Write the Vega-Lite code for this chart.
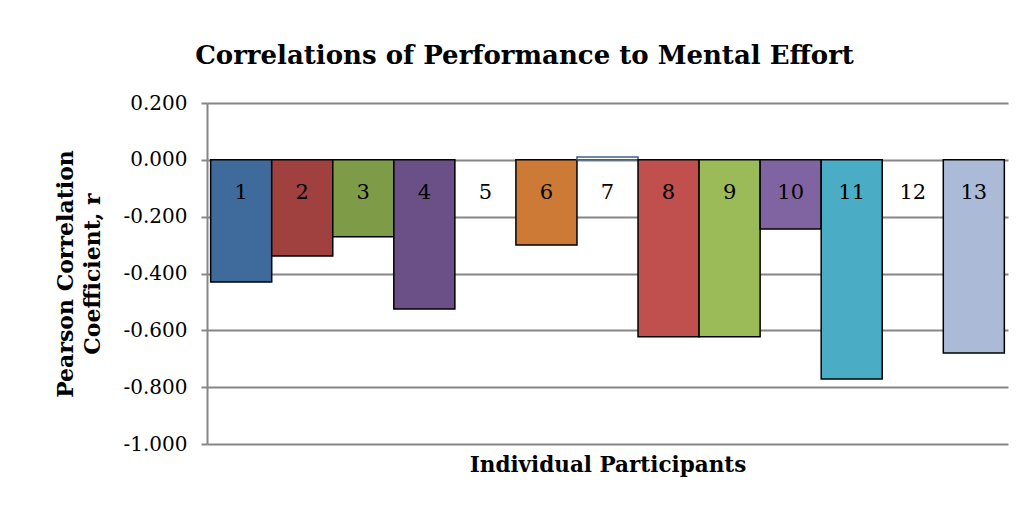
{
  "$schema": "https://vega.github.io/schema/vega-lite/v6.json",
  "width": 801,
  "height": 341,
  "autosize": {"type": "none"},
  "padding": {"left": 207, "top": 103, "right": 15, "bottom": 62},
  "background": "white",
  "title": {
    "text": "Correlations of Performance to Mental Effort",
    "font": "DejaVu Serif",
    "fontSize": 26,
    "fontWeight": "bold",
    "color": "black",
    "anchor": "middle",
    "dx": -83,
    "offset": 24
  },
  "data": {
    "values": [
      {"p": "1", "r": -0.43},
      {"p": "2", "r": -0.338},
      {"p": "3", "r": -0.271},
      {"p": "4", "r": -0.525},
      {"p": "5", "r": null},
      {"p": "6", "r": -0.3},
      {"p": "7", "r": 0.01},
      {"p": "8", "r": -0.623},
      {"p": "9", "r": -0.623},
      {"p": "10", "r": -0.243},
      {"p": "11", "r": -0.771},
      {"p": "12", "r": null},
      {"p": "13", "r": -0.68}
    ]
  },
  "encoding": {
    "x": {
      "field": "p",
      "type": "nominal",
      "sort": null,
      "scale": {
        "domain": ["1", "2", "3", "4", "5", "6", "7", "8", "9", "10", "11", "12", "13"],
        "paddingInner": 0,
        "paddingOuter": 0.06
      },
      "axis": {
        "title": "Individual Participants",
        "labels": false,
        "ticks": false,
        "domain": false,
        "titleFont": "DejaVu Serif",
        "titleFontSize": 21.5,
        "titleFontWeight": "bold",
        "titleColor": "black",
        "titlePadding": 10
      }
    }
  },
  "layer": [
    {
      "mark": {"type": "bar", "stroke": "black", "strokeWidth": 1.5},
      "encoding": {
        "y": {
          "field": "r",
          "type": "quantitative",
          "scale": {"domain": [-1, 0.2], "nice": false, "zero": true},
          "axis": {
            "title": ["Pearson Correlation", "Coefficient, r"],
            "values": [-1, -0.8, -0.6, -0.4, -0.2, 0, 0.2],
            "format": ".3f",
            "labelExpr": "replace(datum.label, '\u2212', '-')",
            "labelFont": "DejaVu Serif",
            "labelFontSize": 20,
            "labelColor": "black",
            "labelPadding": 14,
            "tickSize": 6,
            "tickColor": "#868686",
            "tickWidth": 2,
            "domainColor": "#868686",
            "domainWidth": 2,
            "grid": true,
            "gridColor": "#868686",
            "gridWidth": 2,
            "titleFont": "DejaVu Serif",
            "titleFontSize": 22,
            "titleFontWeight": "bold",
            "titleColor": "black",
            "titlePadding": 18,
            "titleLineHeight": 27
          }
        },
        "y2": {"datum": 0},
        "fill": {
          "field": "p",
          "type": "nominal",
          "legend": null,
          "scale": {
            "domain": ["1", "2", "3", "4", "5", "6", "7", "8", "9", "10", "11", "12", "13"],
            "range": ["#3F6A9C", "#A04140", "#7E9B48", "#6A5087", "#FFFFFF", "#CE7A37", "#FFFFFF", "#C0504D", "#9BBB59", "#8064A2", "#4BACC6", "#FFFFFF", "#AABAD7"]
          }
        },
        "stroke": {
          "condition": {"test": "datum.p === '7'", "value": "#3F5F8A"},
          "value": "black"
        }
      }
    },
    {
      "mark": {"type": "text", "font": "DejaVu Serif", "fontSize": 21, "baseline": "middle", "color": "black"},
      "encoding": {
        "y": {"datum": -0.117, "type": "quantitative"},
        "text": {"field": "p"}
      }
    }
  ],
  "config": {
    "view": {"stroke": null}
  }
}
